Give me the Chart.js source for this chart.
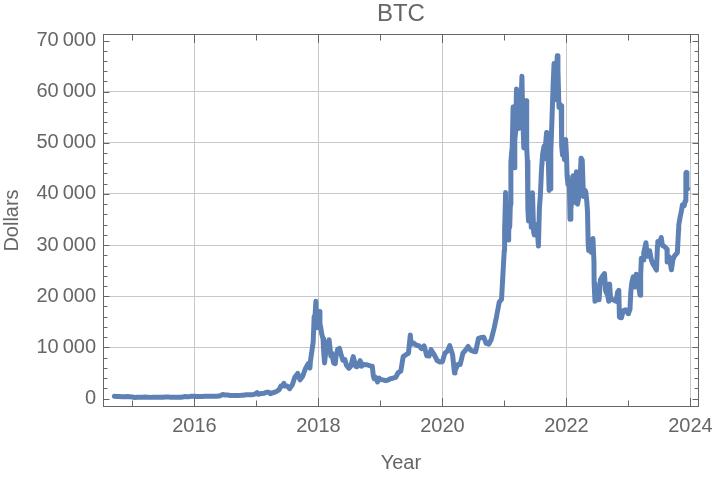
<!DOCTYPE html>
<html>
<head>
<meta charset="utf-8">
<title>BTC</title>
<script src="https://cdn.jsdelivr.net/npm/chart.js@4.4.1/dist/chart.umd.min.js"></script>
<style>
  html, body { margin: 0; padding: 0; background: #fff; }
  #wrap { width: 720px; height: 480px; }
</style>
</head>
<body>
<div id="wrap"><canvas id="btc" width="720" height="480"></canvas></div>
<script>
// BTC closing price (about twice a month, more points around the swings)
const dates = [
  "2014-09-17", "2014-10-01", "2014-10-15", "2014-11-01", "2014-11-15", "2014-12-01", "2014-12-15",
  "2015-01-01", "2015-01-14", "2015-02-01", "2015-02-15", "2015-03-01", "2015-03-15", "2015-04-01", "2015-04-15",
  "2015-05-01", "2015-05-15", "2015-06-01", "2015-06-15", "2015-07-01", "2015-07-15", "2015-08-01", "2015-08-15",
  "2015-09-01", "2015-09-15", "2015-10-01", "2015-10-15", "2015-11-01", "2015-11-04", "2015-11-15", "2015-12-01", "2015-12-15",
  "2016-01-01", "2016-01-15", "2016-02-01", "2016-02-15", "2016-03-01", "2016-03-15", "2016-04-01", "2016-04-15",
  "2016-05-01", "2016-05-15", "2016-06-01", "2016-06-16", "2016-07-01", "2016-07-15", "2016-08-01", "2016-08-15",
  "2016-09-01", "2016-09-15", "2016-10-01", "2016-10-15", "2016-11-01", "2016-11-15", "2016-12-01", "2016-12-15",
  "2017-01-01", "2017-01-05", "2017-01-12", "2017-02-01", "2017-02-15", "2017-03-01", "2017-03-15", "2017-03-24",
  "2017-04-01", "2017-04-15", "2017-05-01", "2017-05-15", "2017-05-25", "2017-06-01", "2017-06-12", "2017-06-15",
  "2017-07-01", "2017-07-16", "2017-08-01", "2017-08-15", "2017-09-01", "2017-09-15", "2017-10-01", "2017-10-15",
  "2017-11-01", "2017-11-12", "2017-11-15", "2017-12-01", "2017-12-07", "2017-12-10", "2017-12-17", "2017-12-22",
  "2017-12-27", "2017-12-31",
  "2018-01-06", "2018-01-10", "2018-01-15", "2018-01-20", "2018-01-28", "2018-02-01", "2018-02-06", "2018-02-10",
  "2018-02-20", "2018-02-25", "2018-03-05", "2018-03-15", "2018-03-20", "2018-04-01", "2018-04-10", "2018-04-15",
  "2018-04-24", "2018-05-05", "2018-05-15", "2018-05-25", "2018-06-06", "2018-06-15", "2018-06-29", "2018-07-10",
  "2018-07-25", "2018-08-08", "2018-08-14", "2018-08-20", "2018-09-04", "2018-09-12", "2018-09-21", "2018-10-01",
  "2018-10-15", "2018-11-01", "2018-11-14", "2018-11-20", "2018-11-25", "2018-12-01", "2018-12-15", "2018-12-24",
  "2018-12-31",
  "2019-01-15", "2019-02-01", "2019-02-15", "2019-03-01", "2019-03-15", "2019-04-01", "2019-04-15", "2019-05-01",
  "2019-05-15", "2019-06-01", "2019-06-15", "2019-06-26", "2019-07-01", "2019-07-15", "2019-08-01", "2019-08-15",
  "2019-09-01", "2019-09-15", "2019-10-01", "2019-10-15", "2019-10-26", "2019-11-01", "2019-11-15", "2019-12-01", "2019-12-15",
  "2020-01-01", "2020-01-15", "2020-02-01", "2020-02-13", "2020-03-01", "2020-03-12", "2020-03-15", "2020-04-01",
  "2020-04-15", "2020-05-01", "2020-05-15", "2020-06-01", "2020-06-15", "2020-07-01", "2020-07-15", "2020-08-01",
  "2020-08-15", "2020-09-01", "2020-09-15", "2020-10-01", "2020-10-15", "2020-11-01", "2020-11-15", "2020-12-01",
  "2020-12-15", "2020-12-31",
  "2021-01-01", "2021-01-03", "2021-01-08", "2021-01-11", "2021-01-15", "2021-01-19", "2021-01-22", "2021-01-26",
  "2021-01-29", "2021-02-01", "2021-02-05", "2021-02-08", "2021-02-12", "2021-02-16", "2021-02-21", "2021-02-23",
  "2021-02-28", "2021-03-03", "2021-03-08", "2021-03-13", "2021-03-16", "2021-03-21", "2021-03-25", "2021-03-29",
  "2021-04-01", "2021-04-07", "2021-04-14", "2021-04-18", "2021-04-25", "2021-04-30", "2021-05-03", "2021-05-08",
  "2021-05-12", "2021-05-16", "2021-05-19", "2021-05-23", "2021-05-25", "2021-05-30", "2021-06-03", "2021-06-08",
  "2021-06-15", "2021-06-22", "2021-06-26", "2021-07-01", "2021-07-07", "2021-07-14", "2021-07-20", "2021-07-26",
  "2021-08-01", "2021-08-07", "2021-08-14", "2021-08-22", "2021-08-29", "2021-09-06", "2021-09-08", "2021-09-15",
  "2021-09-21", "2021-09-28", "2021-10-01", "2021-10-07", "2021-10-15", "2021-10-20", "2021-10-27", "2021-11-01",
  "2021-11-08", "2021-11-12", "2021-11-18", "2021-11-24", "2021-12-01", "2021-12-04", "2021-12-09", "2021-12-15",
  "2021-12-20", "2021-12-27",
  "2022-01-01", "2022-01-05", "2022-01-10", "2022-01-18", "2022-01-22", "2022-01-27", "2022-02-01", "2022-02-10",
  "2022-02-14", "2022-02-24", "2022-03-01", "2022-03-07", "2022-03-15", "2022-03-22", "2022-03-28", "2022-04-04",
  "2022-04-11", "2022-04-18", "2022-04-25", "2022-05-01", "2022-05-05", "2022-05-09", "2022-05-12", "2022-05-20",
  "2022-05-27", "2022-06-01", "2022-06-06", "2022-06-12", "2022-06-13", "2022-06-18", "2022-06-25", "2022-07-01",
  "2022-07-12", "2022-07-20", "2022-07-30", "2022-08-13", "2022-08-20", "2022-09-01", "2022-09-07", "2022-09-12",
  "2022-09-18", "2022-10-01", "2022-10-20", "2022-10-29", "2022-11-05", "2022-11-09", "2022-11-21", "2022-12-01",
  "2022-12-15", "2022-12-31",
  "2023-01-01", "2023-01-10", "2023-01-15", "2023-01-21", "2023-01-29", "2023-02-09", "2023-02-16", "2023-02-25",
  "2023-03-10", "2023-03-14", "2023-03-18", "2023-03-28", "2023-04-01", "2023-04-14", "2023-04-21", "2023-05-01",
  "2023-05-06", "2023-05-15", "2023-05-25", "2023-06-05", "2023-06-15", "2023-06-21", "2023-06-23", "2023-07-05",
  "2023-07-13", "2023-07-20", "2023-08-01", "2023-08-16", "2023-08-17", "2023-08-29", "2023-09-11", "2023-09-20",
  "2023-10-01", "2023-10-16", "2023-10-23", "2023-10-24", "2023-11-01", "2023-11-09", "2023-11-15", "2023-11-25",
  "2023-12-01", "2023-12-05", "2023-12-08", "2023-12-11", "2023-12-16"
];
const closes = [
  457, 383, 395, 325, 348, 379, 347,
  315, 178, 226, 234, 260, 286, 247, 220,
  232, 237, 223, 237, 258, 285, 281, 261,
  228, 230, 237, 255, 325, 403, 320, 362, 453,
  434, 375, 372, 400, 435, 416, 417, 430,
  451, 456, 536, 766, 676, 664, 606, 567,
  572, 607, 614, 639, 730, 711, 752, 779,
  998, 1154, 813, 989, 1008, 1222, 1243, 937,
  1080, 1181, 1421, 1739, 2450, 2411, 2950, 2443,
  2435, 1930, 2718, 4166, 4892, 3637, 4403, 5725,
  6767, 5950, 7300, 10975, 16000, 15000, 19000, 13830,
  15700, 14156,
  17000, 14600, 13819, 12700, 11700, 9170, 6955, 8100,
  11000, 9600, 11500, 8290, 8900, 6955, 6800, 8355,
  9600, 9800, 8504, 7500, 7600, 6499, 5900, 6300,
  8200, 6300, 6200, 6300, 7400, 6300, 6700, 6589,
  6596, 6377, 6300, 4500, 3880, 4214, 3236, 4000,
  3742,
  3630, 3487, 3616, 3854, 3960, 4144, 5036, 5351,
  8206, 8575, 8838, 12400, 10591, 10854, 10405, 10312,
  9757, 10305, 8343, 8283, 9551, 9193, 8500, 7424, 7152,
  7200, 8829, 9344, 10326, 8562, 4970, 5392, 6642,
  6640, 8864, 9385, 10167, 9456, 9232, 9132, 11759,
  11911, 11970, 10796, 10619, 11505, 13737, 15955, 18803,
  19426, 29001,
  29400, 32800, 40300, 35500, 36825, 36000, 31000, 32400,
  34300, 33537, 38000, 46196, 47900, 49200, 57000, 48800,
  45137, 50500, 52200, 60500, 55700, 57500, 52774, 57800,
  58918, 56000, 63000, 56200, 49004, 57700, 56600, 58232,
  49150, 46400, 37002, 34700, 38400, 35700, 39200, 33472,
  40218, 32505, 32000, 33572, 34000, 32800, 29807, 37300,
  39974, 44600, 47831, 49300, 48800, 52000, 46800, 48100,
  40693, 41000, 48200, 53800, 61554, 65500, 58400, 61005,
  67000, 64200, 56891, 57500, 57229, 49368, 47600, 48900,
  46700, 50640,
  47686, 43400, 41864, 42200, 35030, 37000, 38743, 43565,
  42500, 38332, 44354, 38000, 39338, 42400, 47000, 46600,
  39521, 40800, 40426, 38469, 36500, 30297, 28936, 29200,
  28600, 29799, 31300, 26762, 22500, 19017, 21300, 19297,
  19300, 23165, 23800, 24424, 21000, 20127, 19000, 22400,
  19400, 19312, 19000, 20800, 21150, 15880, 15787, 17168,
  17356, 16547,
  16625, 17440, 20880, 22700, 23774, 21800, 24300, 23200,
  20187, 24100, 27403, 27100, 28478, 30466, 27800, 28091,
  28900, 27191, 26300, 25700, 25120, 30000, 30695, 30500,
  31476, 29900, 29705, 29200, 26700, 27700, 25162, 27210,
  27970, 28500, 33000, 33900, 35430, 36700, 37880, 37700,
  38688, 44080, 44200, 41200, 41000
];

const xTicks = [2016, 2018, 2020, 2022, 2024];
const xMinorTicks = [2015, 2017, 2019, 2021, 2023];
const yTicks = [0, 10000, 20000, 30000, 40000, 50000, 60000, 70000];
const yTickLabels = ["0", "10\u2009000", "20\u2009000", "30\u2009000", "40\u2009000", "50\u2009000", "60\u2009000", "70\u2009000"];
const yMinorTicks = [2000, 4000, 6000, 8000, 12000, 14000, 16000, 18000, 22000, 24000, 26000, 28000,
  32000, 34000, 36000, 38000, 42000, 44000, 46000, 48000, 52000, 54000, 56000, 58000,
  62000, 64000, 66000, 68000];

const FONT = "'Liberation Sans', Arial, Helvetica, sans-serif";
const TEXT = "#666666";
const FRAME = "#666666";
const GRID = "#c8c8c8";
const LINE = "#5e81b5";

function toYear(s) {
  const [y, m, d] = s.split("-").map(Number);
  const start = Date.UTC(y, 0, 1);
  const end = Date.UTC(y + 1, 0, 1);
  return y + (Date.UTC(y, m - 1, d) - start) / (end - start);
}

if (dates.length !== closes.length) console.error("dates/closes length mismatch", dates.length, closes.length);
const points = dates.map((d, i) => ({ x: toYear(d), y: closes[i] }));

// Mathematica style frame: box round the plot, ticks pointing inward on all four sides
const frameTicks = {
  id: "frameTicks",
  afterDatasetsDraw(chart) {
    const { ctx, chartArea: a, scales: { x, y } } = chart;
    const L = Math.round(a.left) + 0.5;
    const R = Math.round(a.right) - 0.5;
    const T = Math.round(a.top) + 0.5;
    const B = Math.round(a.bottom) - 0.5;
    ctx.save();
    ctx.strokeStyle = FRAME;
    ctx.lineWidth = 1;
    ctx.strokeRect(L, T, R - L, B - T);
    ctx.beginPath();
    const tickX = (v, len) => {
      const px = Math.round(x.getPixelForValue(v)) + 0.5;
      ctx.moveTo(px, B); ctx.lineTo(px, B - len);
      ctx.moveTo(px, T); ctx.lineTo(px, T + len);
    };
    const tickY = (v, len) => {
      const py = Math.round(y.getPixelForValue(v)) + 0.5;
      ctx.moveTo(L, py); ctx.lineTo(L + len, py);
      ctx.moveTo(R, py); ctx.lineTo(R - len, py);
    };
    xTicks.forEach(v => tickX(v, 8.5));
    xMinorTicks.forEach(v => tickX(v, 6));
    yTicks.forEach(v => tickY(v, 6));
    yMinorTicks.forEach(v => tickY(v, 4));
    ctx.stroke();
    ctx.restore();
  }
};

new Chart(document.getElementById("btc"), {
  type: "line",
  data: {
    datasets: [{
      label: "BTC",
      data: points,
      borderColor: LINE,
      borderWidth: 5,
      borderJoinStyle: "round",
      borderCapStyle: "round",
      pointRadius: 0,
      tension: 0,
      fill: false
    }]
  },
  options: {
    responsive: false,
    animation: false,
    layout: { padding: { left: 0, right: 14, top: 0, bottom: 0 } },
    plugins: {
      legend: { display: false },
      tooltip: { enabled: false },
      title: {
        display: true,
        text: "BTC",
        fullSize: false,
        color: TEXT,
        font: { family: FONT, size: 24, weight: "normal" },
        padding: { top: 0, bottom: 5.2 }
      }
    },
    scales: {
      x: {
        type: "linear",
        min: 2014.5259,
        max: 2024.1355,
        afterBuildTicks: s => { s.ticks = xTicks.map(v => ({ value: v })); },
        afterFit: s => { s.height = 73; },
        border: { display: false },
        grid: { color: GRID, drawTicks: false },
        ticks: {
          color: TEXT,
          padding: 7,
          maxRotation: 0,
          font: { family: FONT, size: 20 },
          callback: v => String(v)
        },
        title: {
          display: true,
          text: "Year",
          color: TEXT,
          font: { family: FONT, size: 20 },
          padding: { top: 0, bottom: 5 }
        }
      },
      y: {
        type: "linear",
        min: -1662,
        max: 71271,
        afterBuildTicks: s => { s.ticks = yTicks.map(v => ({ value: v })); },
        afterFit: s => { s.width = 103; },
        border: { display: false },
        grid: {
          drawTicks: false,
          color: c => (c.tick && (c.tick.value === 0 || c.tick.value === 70000)) ? "rgba(0,0,0,0)" : GRID
        },
        ticks: {
          color: TEXT,
          padding: 7,
          font: { family: FONT, size: 20 },
          callback: v => yTickLabels[yTicks.indexOf(v)]
        },
        title: {
          display: true,
          text: "Dollars",
          color: TEXT,
          font: { family: FONT, size: 20 },
          padding: { top: 0, bottom: 0 }
        }
      }
    }
  },
  plugins: [frameTicks]
});
</script>
</body>
</html>
